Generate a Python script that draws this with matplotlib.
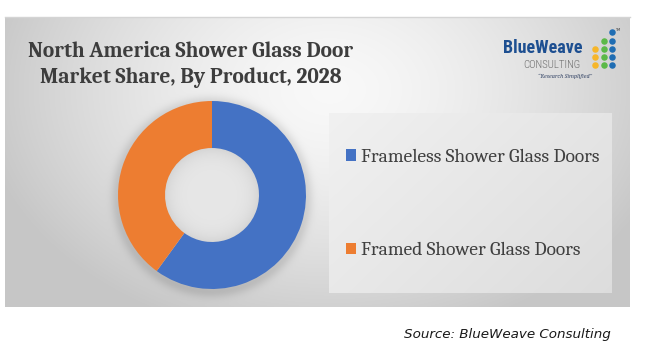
import numpy as np
import matplotlib
matplotlib.use("Agg")
import matplotlib.pyplot as plt

# ---------------- data ----------------
categories = ["Frameless Shower Glass Doors", "Framed Shower Glass Doors"]
shares = [60, 40]
colors = ["#4472C4", "#ED7D31"]
title_lines = ["North America Shower Glass Door", "Market Share, By Product, 2028"]
source_text = "Source: BlueWeave Consulting"

W, H = 671, 362
fig = plt.figure(figsize=(W / 100, H / 100), dpi=100)
fig.patch.set_facecolor("white")

# background axes in pixel coordinates (decoration only)
bg = fig.add_axes([0, 0, 1, 1], zorder=0)
bg.set_xlim(0, W)
bg.set_ylim(H, 0)
bg.axis("off")

# panel radial gradient
px0, px1, py0, py1 = 5, 630, 17, 307
yy, xx = np.mgrid[py0:py1, px0:px1] + 0.5
d = np.sqrt(((xx - 330) / 320) ** 2 + ((yy - 90) / 230) ** 2)
val = np.clip(0.975 - 0.17 * d ** 1.5, 0.78, 1)
# donut soft shadow
r = np.sqrt((xx - 212) ** 2 + (yy - 197) ** 2)
shadow = 0.10 * np.exp(-((r - 94) / 7.0) ** 2) * (r > 90)
val = val - shadow
panel = np.dstack([val, val, val])
bg.imshow(panel, extent=(px0, px1, py1, py0), interpolation="bilinear", zorder=0)
bg.plot([px0, px1], [py0, py0], color="#d4d4d4", lw=1, zorder=1)

# legend box with linear gradient
lx0, lx1, ly0, ly1 = 329, 612, 113, 293
yy2, xx2 = np.mgrid[ly0:ly1, lx0:lx1] + 0.5
t = (xx2 - lx0) / (lx1 - lx0) * 0.6 + (yy2 - ly0) / (ly1 - ly0) * 0.4
lv = 0.945 - 0.08 * t
bg.imshow(np.dstack([lv, lv, lv]), extent=(lx0, lx1, ly1, ly0), interpolation="bilinear", zorder=1)

# donut hole shading
hr = 47
yy3, xx3 = np.mgrid[195 - hr:195 + hr, 212 - hr:212 + hr] + 0.5
rr = np.sqrt((xx3 - 212) ** 2 + (yy3 - 195) ** 2) / hr
hv = 0.905 - 0.07 * np.clip(rr, 0, 1) ** 5
alpha = (rr <= 1.02).astype(float)
bg.imshow(np.dstack([hv, hv, hv, alpha]), extent=(212 - hr, 212 + hr, 195 + hr, 195 - hr),
          interpolation="bilinear", zorder=2)

bg.set_xlim(0, W)
bg.set_ylim(H, 0)

# ---------------- donut ----------------
cx, cy, R = 212, 195, 94
ax = fig.add_axes([(cx - R) / W, (H - cy - R) / H, 2 * R / W, 2 * R / H], zorder=2)
ax.set_facecolor("none")
wedges, _ = ax.pie(shares, colors=colors, startangle=90, counterclock=False, radius=1,
                   wedgeprops=dict(width=0.5, linewidth=0))
ax.set_xlim(-1, 1)
ax.set_ylim(-1, 1)
ax.set_aspect("equal")
ax.axis("off")

# legend
leg = ax.legend(wedges, categories, loc="center left",
                bbox_to_anchor=(346 / W, 1 - 204 / H), bbox_transform=fig.transFigure,
                frameon=False, borderpad=0, borderaxespad=0,
                handlelength=0.5, handleheight=0.5, handletextpad=0.25,
                labelspacing=3.92,
                prop=dict(family="Caladea", size=14))
for txt in leg.get_texts():
    txt.set_color("#404040")

# ---------------- texts ----------------
title_font = dict(family="Caladea", weight="bold", size=15.5, color="#3d3d3d")
fig.text(191 / W, 1 - 57 / H, title_lines[0], ha="center", va="baseline", **title_font)
fig.text(191 / W, 1 - 83 / H, title_lines[1], ha="center", va="baseline", **title_font)

fig.text(611 / W, 1 - 338 / H, source_text, ha="right", va="baseline",
         family="DejaVu Sans", style="italic", size=9.7, color="#1a1a1a")

# logo
fig.text(503 / W, 1 - 53 / H, "BlueWeave", ha="left", va="baseline",
         family="Roboto Condensed", weight="bold", size=13, color="#1d4f91")
fig.text(580 / W, 1 - 68 / H, "CONSULTING", ha="right", va="baseline",
         family="Roboto Condensed", weight="light", size=7.8, color="#6e6e6e")
fig.text(565 / W, 1 - 78 / H, "\u201cResearch Simplified\u201d", ha="center", va="baseline",
         family="Caladea", style="italic", size=4.5, color="#3a4a6a")
fig.text(618 / W, 1 - 31 / H, "TM", ha="center", va="baseline",
         family="DejaVu Sans", size=2.5, color="#333333")
dot_cols = [595, 604, 612]
dot_rows = [32, 40.5, 49, 56.8, 64.5]
dot_colors = ["#f6b62a", "#5bb948", "#1f6db3"]
dot_start = [2, 1, 0]
for ci, x in enumerate(dot_cols):
    ys = dot_rows[dot_start[ci]:]
    bg.scatter([x] * len(ys), ys, s=22, color=dot_colors[ci], linewidths=0, zorder=3)

fig.savefig("out.png", dpi=100, facecolor="white")
